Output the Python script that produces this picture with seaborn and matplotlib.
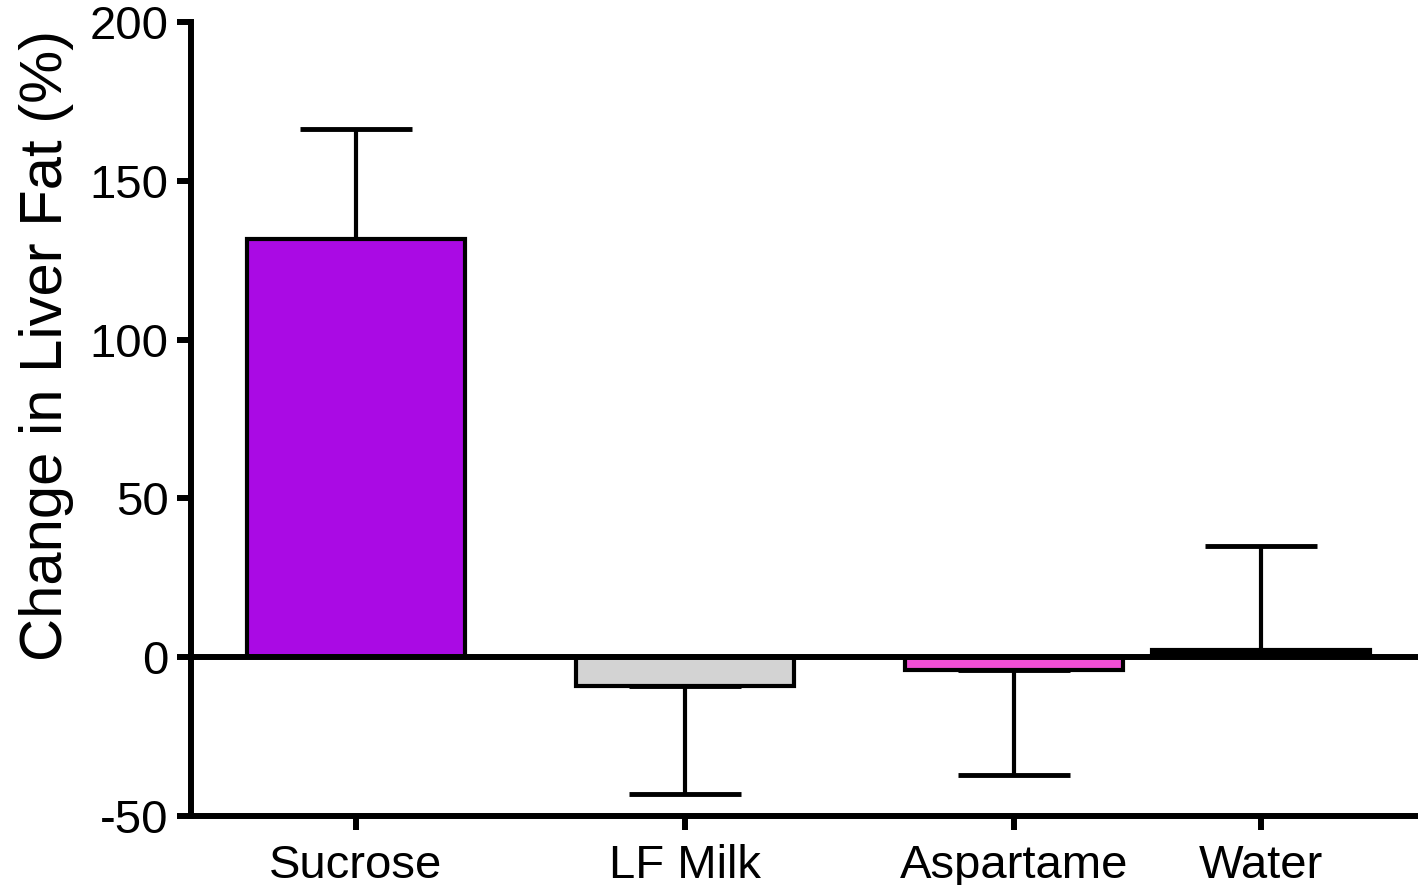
import numpy as np
import pandas as pd
import seaborn as sns
import matplotlib.pyplot as plt

# valeurs
groups = ["Sucrose", "LF Milk", "Aspartame", "Water"]
change = [131.8, -9.1, -4.1, 2.2]
sem = [34.4, 34.1, 33.1, 32.8]
colors = ["#AA0AE4", "#D3D3D3", "#F24FD6", "#000000"]

# position des barres (l'eau est plus proche de l'aspartame)
xpos = [0.0, 1.0, 2.0, 2.75]

df = pd.DataFrame({"group": groups, "x": xpos, "change": change})

sns.set_theme(style="ticks")
plt.rcParams["font.family"] = ["Liberation Sans", "DejaVu Sans"]
plt.rcParams["axes.unicode_minus"] = False
plt.rcParams["text.color"] = "black"
plt.rcParams["axes.labelcolor"] = "black"
plt.rcParams["xtick.color"] = "black"
plt.rcParams["ytick.color"] = "black"

fig = plt.figure(figsize=(14.18, 8.85), dpi=100)
ax = fig.add_axes([0.1347, 0.078, 0.8653, 0.897])

sns.barplot(data=df, x="x", y="change", hue="group", palette=colors,
            native_scale=True, dodge=False, width=0.663 / 0.75, saturation=1,
            edgecolor="black", linewidth=3, legend=False, errorbar=None,
            ax=ax, zorder=3)

# barres d'erreur dans un seul sens (vers l'extérieur)
lower = [s if c < 0 else 0 for c, s in zip(change, sem)]
upper = [s if c >= 0 else 0 for c, s in zip(change, sem)]
eb = ax.errorbar(xpos, change, yerr=[lower, upper], fmt="none", ecolor="black",
                 elinewidth=3, capsize=40, capthick=3.5, zorder=2)

ax.axhline(0, color="black", lw=4.3, zorder=4)

ax.set_xlim(-0.5015, 3.228)
ax.set_ylim(-50, 200)
ax.set_yticks([-50, 0, 50, 100, 150, 200])
ax.set_xticks(xpos)
ax.set_xticklabels(groups)
ax.set_xlabel("")
ax.set_ylabel("Change in Liver Fat (%)", fontsize=43)
ax.yaxis.set_label_coords(-0.0954, 0.593)

ax.tick_params(axis="both", labelsize=34, length=10, width=4.3, color="black",
               labelcolor="black", direction="out")
ax.tick_params(axis="y", pad=6)
ax.tick_params(axis="x", pad=10)

for side in ["top", "right"]:
    ax.spines[side].set_visible(False)
for side in ["left", "bottom"]:
    ax.spines[side].set_linewidth(4.3)
    ax.spines[side].set_color("black")

fig.savefig("out.png", dpi=100)
plt.close(fig)
